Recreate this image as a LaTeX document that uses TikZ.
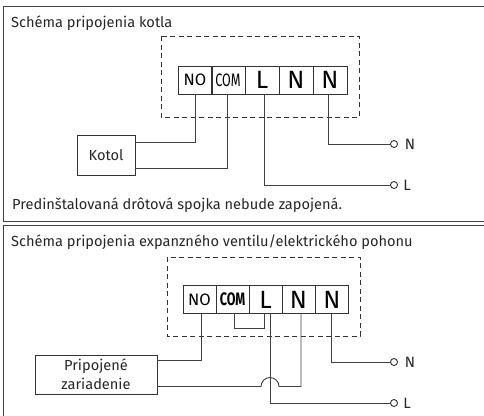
\documentclass[tikz,border=0pt]{standalone}
\usepackage{fontspec}
\setmainfont{Fira Sans}
\tikzset{
  wire/.style={draw=black!75, line width=0.9pt},
  frame/.style={draw=black!75, line width=1pt},
  dashbox/.style={draw=black!80, line width=0.9pt, dash pattern=on 5pt off 3.5pt},
  cell/.style={draw=black!80, line width=0.9pt, minimum height=28pt, inner sep=0pt},
  unit/.style={draw=black!80, line width=0.9pt, align=center, inner sep=0pt, font=\fontsize{14.6}{19}\selectfont, text=black!85},
  terminal/.style={circle, draw=black!80, fill=white, line width=0.9pt, inner sep=0pt, minimum size=7pt},
  caption/.style={anchor=west, inner sep=0pt, font=\fontsize{14.6}{16}\selectfont, text=black!85},
  termtext/.style={inner sep=0pt, font=\fontsize{15}{16}\selectfont, text=black!85},
  small/.style={font=\fontsize{16.5}{18}\selectfont},
  tight/.style={font=\fontsize{18}{18}\selectfont},
  big/.style={font=\fontsize{25}{26}\selectfont}
}
\begin{document}
\begin{tikzpicture}[x=1pt, y=-1pt]
  \useasboundingbox (0,0) rectangle (484,415);
  % upper panel
  \draw[frame] (490,6) -- (3,6) -- (3,221) -- (490,221);
  \node[caption] (titleA) at (11,23) {Schéma pripojenia kotla};
  \node[caption] (noteA) at (12,205) {Predinštalovaná drôtová spojka nebude zapojená.};
  \draw[dashbox] (161,36) rectangle (359,117);
  \node[cell, small, minimum width=34pt] (noA) at (195,80) {NO};
  \node[cell, tight, minimum width=34pt] (comA) at (228,80) {\scalebox{0.7}[1]{COM}};
  \node[cell, big, minimum width=34pt] (lA) at (262,80) {L};
  \node[cell, big, minimum width=34pt] (nA) at (296,80) {N};
  \node[cell, big, minimum width=34pt] (mA) at (330,80) {N};
  \node[unit, minimum width=58pt, minimum height=40pt] (kotol) at (106,155) {Kotol};
  \node[terminal] (supNA) at (394,144) {};
  \node[terminal] (supLA) at (394,185) {};
  \node[termtext] (txtNA) at (410,144) {N};
  \node[termtext] (txtLA) at (407,185) {L};
  \coordinate (kotolup) at (135,142);
  \coordinate (kotoldn) at (135,168);
  \draw[wire] (noA.south) |- (kotolup);
  \draw[wire] (comA.south) ++(-1,0) |- (kotoldn);
  \draw[wire] (lA.south) ++(2,0) |- (supLA);
  \draw[wire] (mA.south) ++(-2,0) |- (supNA);
  % lower panel
  \draw[frame] (490,225) -- (3,225) -- (3,420);
  \node[caption] (titleB) at (11,242) {Schéma pripojenia expanzného ventilu/elektrického pohonu};
  \draw[dashbox] (167,257) rectangle (360,336);
  \node[cell, small, minimum width=33pt] (noB) at (199.5,299.5) {NO};
  \node[cell, tight, minimum width=33pt] (comB) at (232.5,299.5) {\bfseries\scalebox{0.7}[1]{COM}};
  \node[cell, big, minimum width=33pt] (lB) at (265.5,299.5) {L};
  \node[cell, big, minimum width=33pt] (nB) at (298.5,299.5) {N};
  \node[cell, big, minimum width=33pt] (mB) at (332,299.5) {N};
  \node[unit, minimum width=122pt, minimum height=39pt] (zar) at (96,374.5) {Pripojené\\zariadenie};
  \node[terminal] (supNB) at (394,362) {};
  \node[terminal] (supLB) at (394,403) {};
  \node[termtext] (txtNB) at (410,362) {N};
  \node[termtext] (txtLB) at (407,403) {L};
  \coordinate (zarup) at (157,360);
  \coordinate (zardn) at (157,386.5);
  \coordinate (hopin) at (261,386.5);
  \coordinate (linkin) at (234,313);
  \coordinate (linkout) at (264,313);
  \coordinate (linkbot) at (264,328);
  \coordinate (ntop) at (301,313);
  \coordinate (nbot) at (301,386.5);
  \draw[wire] (noB.south) ++(1.5,0) |- (zarup);
  \draw[wire] (linkin) |- (linkbot) -- (linkout);
  \draw[wire] (lB.south) ++(4.5,0) |- (supLB);
  \draw[wire] (zardn) -- (hopin) arc (180:360:9) -- (nbot) -- (ntop);
  \draw[wire] (mB.south) ++(-1,0) |- (supNB);
\end{tikzpicture}
\end{document}
